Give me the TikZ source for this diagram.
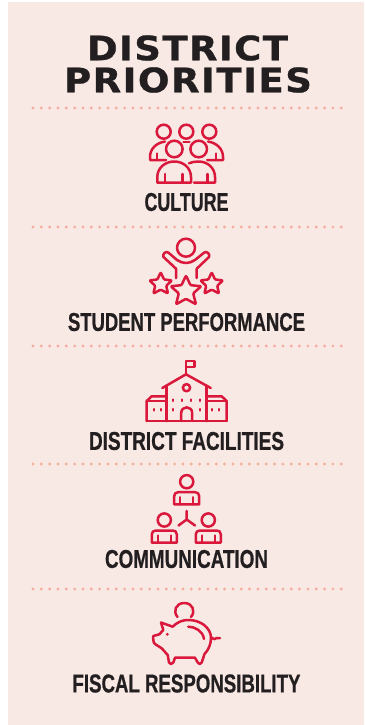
\documentclass[tikz,border=0pt]{standalone}
\usepackage{fontspec}
\usepackage{graphicx}
\setmainfont{Liberation Sans}
\newfontfamily\titlefont[LetterSpace=4,FakeBold=0.8]{DejaVu Sans Bold}
\newfontfamily\labelfont[FakeBold=0.8]{Liberation Sans Bold}
\definecolor{panelbg}{HTML}{F8E9E5}
\definecolor{iconred}{HTML}{D9183B}
\definecolor{dotpink}{HTML}{F4AE9D}
\definecolor{inkdark}{HTML}{231F20}
\newcommand{\fitted}[3]{\resizebox{#1pt}{#2pt}{\labelfont #3}}
\newcommand{\fittitle}[3]{\resizebox{#1pt}{#2pt}{\titlefont #3}}
\tikzset{
  sep/.style={draw=dotpink,line width=3.2pt,line cap=round,dash pattern=on 0pt off 8.33pt},
  icon/.style={draw=iconred,line width=2.5pt,line cap=round,line join=round},
  starshape/.style={icon,rounded corners=1pt},
  tick/.style={draw=iconred,line width=2.3pt,line cap=round},
  label/.style={inner sep=0pt,text=inkdark},
}
\begin{document}
\begin{tikzpicture}[x=1pt,y=-1pt]
\useasboundingbox (0,0) rectangle (364,725);
\fill[white] (0,0) rectangle (364,725);
\fill[panelbg] (8,2) rectangle (364,725);

\node[label] (t1) at (187.5,48) {\fittitle{201}{25}{DISTRICT}};
\node[label] (t2) at (188,80) {\fittitle{248}{25}{PRIORITIES}};

\foreach \yy in {108,227,346,464,589} \draw[sep] (33,\yy) -- (343,\yy);

\node[label] (l1) at (186.5,202) {\fitted{84}{18}{CULTURE}};
\node[label] (l2) at (186.5,322) {\fitted{237}{18}{STUDENT PERFORMANCE}};
\node[label] (l3) at (186.5,441) {\fitted{195}{18}{DISTRICT FACILITIES}};
\node[label] (l4) at (186.5,559) {\fitted{163}{18}{COMMUNICATION}};
\node[label] (l5) at (186.5,683.5) {\fitted{228}{18}{FISCAL RESPONSIBILITY}};

% Culture
\foreach \cx in {163.7,186.3,209.3} \draw[icon] (\cx,131.7) circle[radius=7pt];
\draw[icon] (183.5,141.9) -- (189.5,141.9);
\foreach \cx in {174.3,198.7} \draw[icon] (\cx,149) circle[radius=8.3pt];
\draw[icon] (165,141.5) .. controls (156,143) and (150,149) .. (150,157) -- (150,160) -- (166,160);
\draw[icon] (157,153.5) -- (157,160);
\draw[icon] (208,141.5) .. controls (217,143) and (223,149) .. (223,157) -- (223,160) -- (207,160);
\draw[icon] (216,153.5) -- (216,160);
\draw[icon] (157.3,182.7) -- (157.3,177) .. controls (157.3,168) and (165,161.5) .. (174.3,161.5) .. controls (183.5,161.5) and (191,168) .. (191,177) -- (191,182.7) -- cycle;
\draw[icon] (165,174) -- (165,182.7) (182.7,174) -- (182.7,182.7);
\draw[icon] (189,163.3) .. controls (192,162) and (195,161.5) .. (198.7,161.5) .. controls (207.5,161.5) and (215,168) .. (215,177) -- (215,182.7) -- (194,182.7);
\draw[icon] (207.3,174) -- (207.3,182.7);

% Student
\draw[icon] (186,247.7) circle[radius=9pt];
\draw[icon] (176,278) -- (176,268.7) -- (163.5,257) .. controls (162,254) and (166,250.5) .. (168.5,252.7) -- (177,260) .. controls (183,264) and (189,264) .. (195,260) -- (204,252.7) .. controls (206.5,250.5) and (210.5,254) .. (209,257) -- (196.7,268.7) -- (196.7,278);
\draw[starshape] (186,275.5) -- (190.5,285.2) -- (201.3,286.2) -- (193.2,293.4) -- (196,304.3) -- (186,298.8) -- (176,304.3) -- (178.8,293.4) -- (170.7,286.2) -- (181.5,285.2) -- cycle;
\draw[starshape] (160.7,272.3) -- (164,279.5) -- (172,280.4) -- (166.2,285.8) -- (168,293.5) -- (160.7,289.6) -- (153.4,293.5) -- (155.2,285.8) -- (149.4,280.4) -- (157.4,279.5) -- cycle;
\draw[starshape] (211.7,272.3) -- (215,279.5) -- (223,280.4) -- (217.2,285.8) -- (219,293.5) -- (211.7,289.6) -- (204.4,293.5) -- (206.2,285.8) -- (200.4,280.4) -- (208.4,279.5) -- cycle;

% School
\draw[icon] (186,373.7) -- (186,361) -- (194.3,361) -- (194.3,367) -- (186,367);
\draw[icon] (162.3,388) -- (186,374.3) -- (210.7,388);
\draw[icon] (166.7,385.5) -- (166.7,421) (206.7,385.5) -- (206.7,421);
\draw[icon] (146.7,421) -- (226.7,421);
\draw[icon] (146.7,421) -- (146.7,401) -- (151.7,396.3) -- (166.7,396.3);
\draw[icon] (146.7,401) -- (166.7,401);
\draw[icon] (226.7,421) -- (226.7,401) -- (221.7,396.3) -- (206.7,396.3);
\draw[icon] (226.7,401) -- (206.7,401);
\draw[icon] (186.5,387.7) circle[radius=3.6pt];
\draw[icon] (181.2,421) -- (181.2,413) .. controls (181.2,405.5) and (192.2,405.5) .. (192.2,413) -- (192.2,421);
\foreach \dx in {172.7,181.7,191.3,200.3} \draw[tick] (\dx,399.5) -- (\dx,401);
\foreach \dx in {172.7,200.3,154,160.7,212.3,219} \draw[tick] (\dx,409) -- (\dx,410.5);

% Communication
\foreach \ox/\oy in {186.7/481.7,164.3/520,208.3/520}{
  \draw[icon] (\ox,\oy) circle[radius=6.6pt];
  \draw[icon] (\ox-12.5,\oy+22.6) -- (\ox-12.5,\oy+14.5) .. controls (\ox-12.5,\oy+12) and (\ox-11,\oy+10.5) .. (\ox-8.5,\oy+10.5) -- (\ox+8.5,\oy+10.5) .. controls (\ox+11,\oy+10.5) and (\ox+12.5,\oy+12) .. (\ox+12.5,\oy+14.5) -- (\ox+12.5,\oy+22.6) -- cycle;
  \draw[icon] (\ox-6.5,\oy+15.5) -- (\ox-6.5,\oy+22.6) (\ox+6.5,\oy+15.5) -- (\ox+6.5,\oy+22.6);
}
\draw[icon] (186.7,511) -- (186.7,519.5) (178.5,525.5) -- (186.7,519.5) -- (195,525.5);

% Piggy
\draw[icon] (177.5,617) .. controls (172.5,611) and (176,603) .. (184.3,603) .. controls (192.5,603) and (196,611) .. (191,617);
\draw[icon] (172.7,626.7) .. controls (178,621.5) and (183,620) .. (188.3,620) .. controls (201,620) and (211,628) .. (211,638) .. controls (211,644) and (208.5,650) .. (204.5,654) -- (201.7,662.5) .. controls (201.3,664.5) and (198,664.5) .. (197.7,662.5) -- (195,657.7) -- (175,657.7) -- (173.3,662.5) .. controls (172.5,664.5) and (169.5,664.5) .. (169,662.5) -- (167.7,655) -- (161.7,648.3) -- (155,644) .. controls (153,643) and (153,637) .. (153.3,636) -- (159.3,634.3) -- (163.3,630) -- (161,622.5) -- cycle;
\draw[icon] (188.3,626.7) .. controls (195,626.7) and (203,631) .. (204,639);
\fill[iconred] (167.3,634.3) circle[radius=1.6pt];
\draw[icon] (211.7,637.5) .. controls (214,640) and (216,639) .. (216.5,638) -- (220,638);
\end{tikzpicture}
\end{document}
